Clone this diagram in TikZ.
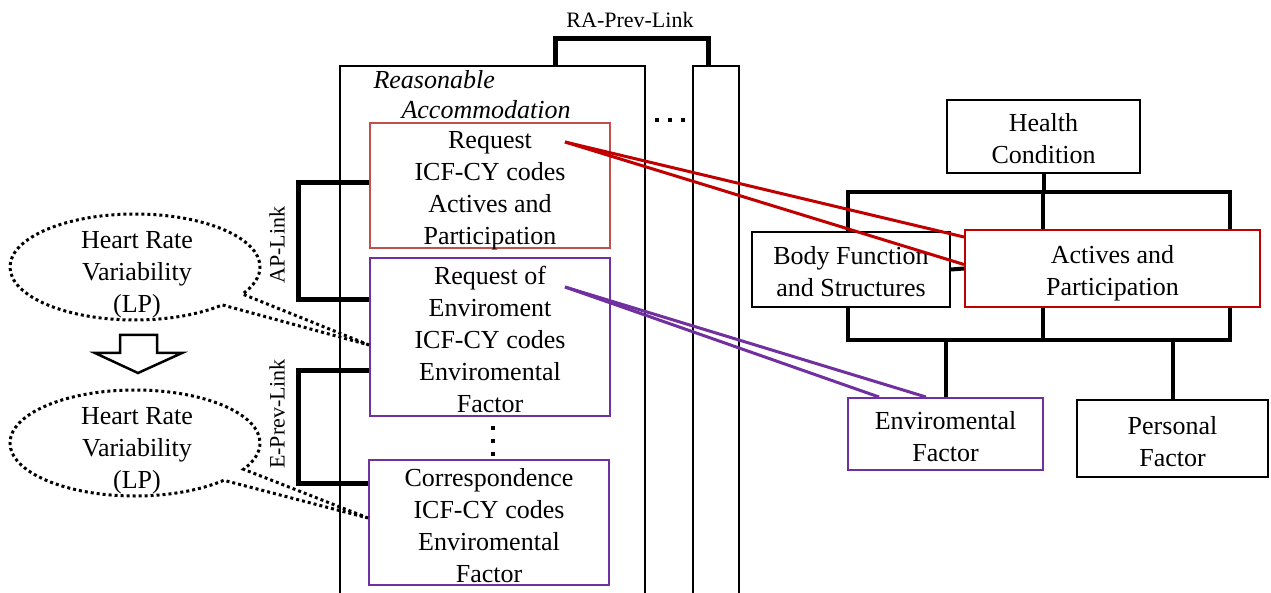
\documentclass[tikz,border=0pt]{standalone}
\usepackage{fontspec}
\setmainfont{Liberation Serif}
\usetikzlibrary{shapes.callouts}

\definecolor{rqred}{HTML}{C0504D}
\definecolor{apred}{HTML}{C00000}
\definecolor{envpurple}{HTML}{7030A0}
\newcommand{\boxstrut}{\rule{0pt}{23pt}}

\begin{document}
\begin{tikzpicture}[
  x=1pt, y=-1pt,
  every node/.style={font=\fontsize{26}{32}\selectfont},
  box/.style={draw, fill=white, line width=2pt, align=center, inner sep=0pt, text depth=0pt},
  ra/.style={draw, line width=2.5pt, inner sep=0pt},
  link/.style={line width=5pt},
  bus/.style={line width=4pt},
  lbl/.style={font=\fontsize{22}{26}\selectfont},
  hrv/.style={ellipse callout, draw, line width=3pt, dash pattern=on 3pt off 3pt,
    minimum width=250pt, minimum height=106pt},
  hrvtext/.style={align=center, inner sep=0pt, text depth=0pt},
  codeline/.style={line width=3pt},
  dots/.style={line width=4.5pt, dash pattern=on 4pt off 9pt}
]
\useasboundingbox (0,0) rectangle (1271,593);
\clip (0,0) rectangle (1271,593);

% reasonable accommodation columns
\node[ra, minimum width=305pt, minimum height=554pt] (ra1) at (492.5,343) {};
\node[ra, minimum width=46pt, minimum height=554pt] (ra2) at (716,343) {};
\node[anchor=west, font=\fontsize{26}{32}\selectfont\itshape] (ral1) at (370,80) {Reasonable};
\node[anchor=west, font=\fontsize{26}{32}\selectfont\itshape] (ral2) at (398,110) {Accommodation};
\draw[link] ([xshift=62.5pt]ra1.north) -- ++(0,-26) -| ([xshift=-8pt]ra2.north);
\node[lbl] (ralink) at (630,20) {RA-Prev-Link};
\draw[dots] (655,120) -- (690,120);

% request boxes
\node[box, draw=rqred, minimum width=240pt, minimum height=125pt] (rqa) at (490,185.5)
  {\boxstrut Request\\ICF-CY codes\\Actives and\\Participation};
\node[box, draw=envpurple, minimum width=240pt, minimum height=158pt] (rqe) at (490,337)
  {\boxstrut Request of\\Enviroment\\ICF-CY codes\\Enviromental\\Factor};
\node[box, draw=envpurple, minimum width=240pt, minimum height=125pt] (crs) at (489,522.5)
  {\boxstrut Correspondence\\ICF-CY codes\\Enviromental\\Factor};
\draw[dots] ([xshift=3pt,yshift=-9pt]rqe.south) -- ([xshift=4pt,yshift=2pt]crs.north);

% links
\draw[link] (rqa.west |- 0,183) -| (298,300) -- (rqe.west |- 0,300);
\node[lbl, rotate=90] (aplink) at (277,245) {AP-Link};
\draw[link] (rqe.west |- 0,370) -| (298,483) -- (crs.west |- 0,483);
\node[lbl, rotate=90] (eplink) at (277,414) {E-Prev-Link};

% heart rate variability
\node[hrv, callout absolute pointer={(rqe.west |- 0,345)}] (hrv1) at (135,267) {};
\node[hrvtext] (hrv1t) at (137,269) {\boxstrut Heart Rate\\Variability\\(LP)};
\draw[line width=2.5pt, fill=white] (120,335) -- (157,335) -- (157,353) -- (182,353)
  -- (138,373) -- (95,353) -- (120,353) -- cycle;
\node[hrv, callout absolute pointer={(crs.west |- 0,518)}] (hrv2) at (135,443) {};
\node[hrvtext] (hrv2t) at (137,445) {\boxstrut Heart Rate\\Variability\\(LP)};

% ICF model
\draw[bus] (848,192) rectangle (1230,340);
\draw[bus] (1043,192) -- (1043,340);
\node[box, minimum width=193pt, minimum height=73pt] (hc) at (1043.5,136.5) {\boxstrut Health\\Condition};
\node[box, minimum width=198pt, minimum height=75pt] (bf) at (851,269.5) {\boxstrut Body Function\\and Structures};
\node[box, draw=apred, minimum width=295pt, minimum height=77pt] (ap) at (1112.5,268.5) {\boxstrut Actives and\\Participation};
\node[box, draw=envpurple, minimum width=195pt, minimum height=72pt] (env) at (945.5,434) {\boxstrut Enviromental\\Factor};
\node[box, minimum width=191pt, minimum height=77pt] (pf) at (1172.5,438.5) {\boxstrut Personal\\Factor};
\draw[bus] (hc.south) -- (hc.south |- 0,192);
\draw[bus] (bf.east) -- (ap.west);
\draw[bus] (env.north |- 0,340) -- (env.north);
\draw[bus] (pf.north |- 0,340) -- (pf.north);

% code links
\coordinate (rqat) at (565,142);
\coordinate (rqet) at (565,287);
\draw[codeline, apred] (rqat) -- ([yshift=-8pt]ap.north west);
\draw[codeline, apred] (rqat) -- ([yshift=4pt]ap.west);
\draw[codeline, envpurple] (rqet) -- ([xshift=32pt]env.north west);
\draw[codeline, envpurple] (rqet) -- ([xshift=79pt]env.north west);
\end{tikzpicture}
\end{document}
